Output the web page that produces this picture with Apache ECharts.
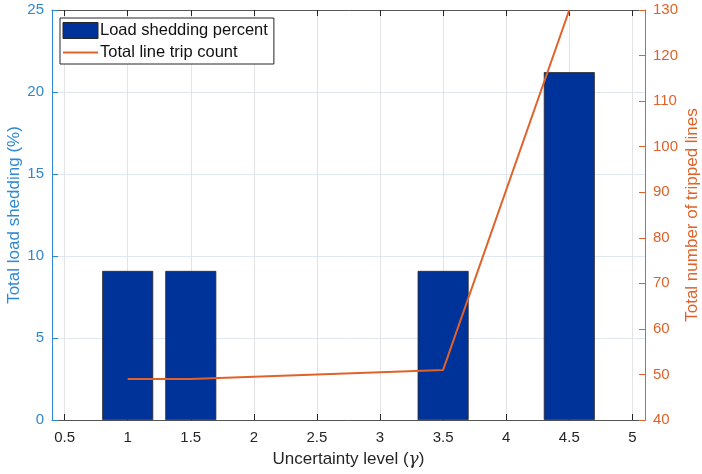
<!DOCTYPE html>
<html>
<head>
<meta charset="utf-8">
<script src="https://cdn.jsdelivr.net/npm/echarts@6/dist/echarts.min.js"></script>
<style>
  html, body { margin: 0; padding: 0; background: #fff; }
  #chart { width: 702px; height: 474px; }
</style>
</head>
<body>
<div id="chart"></div>
<script>
// Uncertainty levels (gamma) at which the study was run
const gammaLevels = [1, 1.5, 3.5, 4.5];
// Total load shedding, percent
const loadShedding = [9.09, 9.09, 9.09, 21.21];
// Total count of tripped lines
const tripCount = [49, 49, 51, 130];
// Tick positions on the x axis
const xTicks = [0.5, 1, 1.5, 2, 2.5, 3, 3.5, 4, 4.5, 5];

const FONT = 'Liberation Sans, Arial, sans-serif';
const DARK = '#262626';
const BLUE = '#2f88d4';
const ORANGE = '#e0622a';
const BAR = '#003399';

const chart = echarts.init(document.getElementById('chart'));

const xCommon = {
  type: 'value',
  min: 0.4,
  max: 5.1,
  axisLine: { show: true, lineStyle: { color: '#555', width: 1 } },
  axisTick: { show: true, inside: true, length: 6, customValues: xTicks, lineStyle: { color: DARK } },
  splitLine: { show: false }
};

chart.setOption({
  animation: false,
  textStyle: { fontFamily: FONT },
  grid: { left: 52, right: 57, top: 10, bottom: 54, containLabel: false, outerBoundsMode: 'none' },
  legend: {
    left: 60,
    top: 18,
    orient: 'vertical',
    backgroundColor: '#fff',
    borderColor: DARK,
    borderWidth: 1,
    padding: [4, 6, 3, 2],
    itemGap: 5,
    itemWidth: 35,
    itemHeight: 16,
    textStyle: { fontSize: 16.5, color: '#111', fontFamily: FONT, padding: [0, 0, 0, -3] },
    data: [
      { name: 'Load shedding percent', icon: 'rect', itemStyle: { borderColor: DARK, borderWidth: 1 } },
      { name: 'Total line trip count', itemStyle: { opacity: 0 } }
    ]
  },
  xAxis: [
    Object.assign({}, xCommon, {
      position: 'bottom',
      name: 'Uncertainty level ({g|γ})',
      nameLocation: 'middle',
      nameMoveOverlap: false,
      nameGap: 31,
      nameTextStyle: {
        fontSize: 17, color: DARK, fontFamily: FONT,
        rich: { g: { fontSize: 17, fontStyle: 'italic', fontFamily: 'DejaVu Serif, serif', color: DARK } }
      },
      axisLabel: { show: true, customValues: xTicks, fontSize: 15, color: DARK, margin: 10, fontFamily: FONT },
      splitLine: { show: true, lineStyle: { color: '#e3e3e3', width: 1 } }
    }),
    Object.assign({}, xCommon, {
      position: 'top',
      axisLabel: { show: false }
    })
  ],
  yAxis: [
    {
      type: 'value',
      min: 0,
      max: 25,
      interval: 5,
      position: 'left',
      name: 'Total load shedding (%)',
      nameLocation: 'middle',
      nameMoveOverlap: false,
      nameGap: 29,
      nameTextStyle: { fontSize: 17, color: BLUE, fontFamily: FONT },
      axisLine: { show: true, lineStyle: { color: BLUE, width: 1 } },
      axisTick: { show: true, inside: true, length: 6, lineStyle: { color: BLUE } },
      axisLabel: { fontSize: 15, color: BLUE, margin: 8, fontFamily: FONT },
      splitLine: { show: true, lineStyle: { color: '#dde8f2', width: 1 } }
    },
    {
      type: 'value',
      min: 40,
      max: 130,
      interval: 10,
      position: 'right',
      name: 'Total number of tripped lines',
      nameLocation: 'middle',
      nameMoveOverlap: false,
      nameRotate: 90,
      nameGap: 39,
      nameTextStyle: { fontSize: 17, color: ORANGE, fontFamily: FONT },
      axisLine: { show: true, lineStyle: { color: ORANGE, width: 1 } },
      axisTick: { show: true, inside: true, length: 6, lineStyle: { color: ORANGE } },
      axisLabel: { fontSize: 15, color: ORANGE, margin: 8, fontFamily: FONT },
      splitLine: { show: false }
    }
  ],
  series: [
    {
      name: 'Load shedding percent',
      type: 'bar',
      xAxisIndex: 0,
      yAxisIndex: 0,
      barWidth: 51,
      itemStyle: { color: BAR, borderColor: DARK, borderWidth: 0.8 },
      data: gammaLevels.map((g, i) => [g, loadShedding[i]])
    },
    {
      name: 'Total line trip count',
      type: 'line',
      xAxisIndex: 0,
      yAxisIndex: 1,
      symbol: 'none',
      clip: true,
      lineStyle: { color: ORANGE, width: 2 },
      itemStyle: { color: ORANGE },
      data: gammaLevels.map((g, i) => [g, tripCount[i]])
    }
  ]
});
</script>
</body>
</html>
